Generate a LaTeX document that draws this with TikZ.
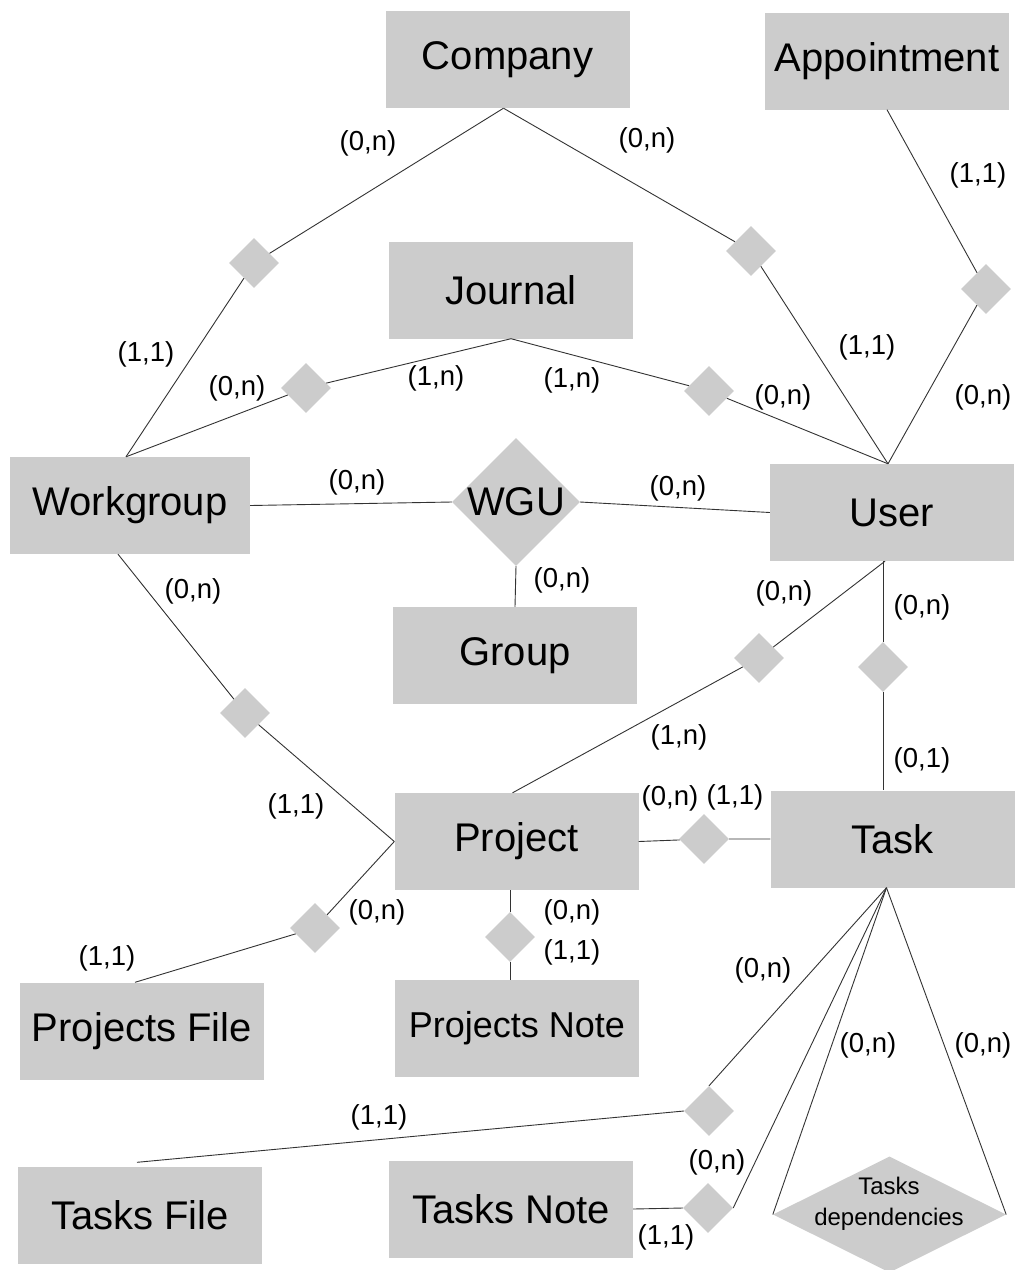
\documentclass[tikz,border=0pt]{standalone}
\usepackage{fontspec}
\setmainfont{Liberation Sans}
\usetikzlibrary{shapes.geometric,calc}
\definecolor{boxgray}{HTML}{CCCCCC}
\definecolor{linegray}{HTML}{333333}

\begin{document}
\begin{tikzpicture}[x=1pt,y=-1pt,
  entity/.style={rectangle, fill=boxgray, minimum width=244pt, minimum height=97pt,
                 inner sep=0pt, font=\fontsize{40}{44}\selectfont},
  rel/.style={diamond, fill=boxgray, minimum width=50pt, minimum height=50pt,
              inner sep=0pt, aspect=1},
  card/.style={font=\fontsize{27.5}{30}\selectfont, inner sep=0pt},
  link/.style={draw=linegray, line width=0.9pt}]

\fill[white] (0,0) rectangle (1024,1270);
\useasboundingbox (0,0) rectangle (1024,1270);

% entities
\node[entity] (company) at (507.5,59.5) {Company};
\node[entity] (appt) at (887,61) {Appointment};
\node[entity] (journal) at (511,290) {Journal};
\node[entity, minimum width=240pt] (wg) at (130,505.5) {Workgroup};
\node[entity] (user) at (892,512.5) {User};
\node[entity] (group) at (515,655.5) {Group};
\node[entity] (project) at (516.5,841.5) {Project};
\node[entity] (task) at (892.5,839) {Task};
\node[entity] (pfile) at (142,1031) {Projects File};
\node[entity, font=\fontsize{36}{40}\selectfont] (pnote) at (517,1028.5) {Projects Note};
\node[entity] (tfile) at (140,1215) {Tasks File};
\node[entity] (tnote) at (511,1209) {Tasks Note};

% relationships
\node[rel] (r1) at (254,263) {};
\node[rel] (r2) at (751,251) {};
\node[rel] (r3) at (986,289) {};
\node[rel] (r4) at (306,388) {};
\node[rel] (r5) at (709,391) {};
\node[rel, minimum width=128pt, minimum height=128pt,
      font=\fontsize{40}{44}\selectfont] (wgu) at (516,502) {WGU};
\node[rel] (r6) at (245,713) {};
\node[rel] (r7) at (759,658) {};
\node[rel] (r8) at (883,667) {};
\node[rel] (r9) at (704,839) {};
\node[rel] (r10) at (315,928) {};
\node[rel] (r11) at (510,937) {};
\node[rel] (r12) at (709,1111) {};
\node[rel] (r13) at (708,1208) {};
\node[rel, minimum width=233pt, minimum height=116pt] (dep) at (889.5,1214.5) {};
\node[font=\fontsize{24}{31}\selectfont, align=center, inner sep=0pt] (deptext)
  at (889,1204) {Tasks\\dependencies};

% attachment points
\coordinate (compfoot) at ($(company.south)+(-4,0)$);
\coordinate (wghead) at ($(wg.north)+(-4,0)$);
\coordinate (userhead) at ($(user.north)+(-4,0)$);
\coordinate (userfoot) at ($(user.south)+(-7,0)$);
\coordinate (wgfoot) at ($(wg.south)+(-12,0)$);
\coordinate (projhead) at ($(project.north)+(-4,0)$);
\coordinate (pfilehead) at ($(pfile.north)+(-7,0)$);
\coordinate (tfilehead) at ($(tfile.north)+(-3,-4)$);
\coordinate (taskfoot) at ($(task.south)+(-6,0)$);

% connectors
\draw[link] (compfoot) -- (r1) -- (wghead);
\draw[link] (compfoot) -- (r2) -- (userhead);
\draw[link] (appt.south) -- (r3) -- (userhead);
\draw[link] (journal.south) -- (r4) -- (wghead);
\draw[link] (journal.south) -- (r5) -- (userhead);
\draw[link] (wg.east) -- (wgu.west);
\draw[link] (wgu.east) -- (user.west);
\draw[link] (wgu.south) -- (group.north);
\draw[link] (wgfoot) -- (r6) -- (project.west);
\draw[link] (userfoot) -- (r7) -- (projhead);
\draw[link] (user.south -| r8) -- (r8) -- (r8 |- task.north);
\draw[link] (project.east) -- (r9) -- (task.west);
\draw[link] (project.west) -- (r10) -- (pfilehead);
\draw[link] (project.south -| r11) -- (r11) -- (r11 |- pnote.north);
\draw[link] (taskfoot) -- (r12.north);
\draw[link] (r12.west) -- (tfilehead);
\draw[link] (taskfoot) -- (r13.east);
\draw[link] (r13.west) -- (tnote.east);
\draw[link] (taskfoot) -- (dep.west);
\draw[link] (taskfoot) -- (dep.east);

% cardinalities
\node[card] (k1) at (368,143) {(0,n)};
\node[card] (k2) at (647,140) {(0,n)};
\node[card] (k3) at (978,175) {(1,1)};
\node[card] (k4) at (146,354) {(1,1)};
\node[card] (k5) at (237,388) {(0,n)};
\node[card] (k6) at (436,378) {(1,n)};
\node[card] (k7) at (572,380) {(1,n)};
\node[card] (k8) at (783,397) {(0,n)};
\node[card] (k9) at (867,347) {(1,1)};
\node[card] (k10) at (983,397) {(0,n)};
\node[card] (k11) at (357,482) {(0,n)};
\node[card] (k12) at (678,488) {(0,n)};
\node[card] (k13) at (562,580) {(0,n)};
\node[card] (k14) at (193,591) {(0,n)};
\node[card] (k15) at (296,806) {(1,1)};
\node[card] (k16) at (784,593) {(0,n)};
\node[card] (k17) at (922,607) {(0,n)};
\node[card] (k18) at (679,737) {(1,n)};
\node[card] (k19) at (922,760) {(0,1)};
\node[card] (k20) at (670,798) {(0,n)};
\node[card] (k21) at (735,797) {(1,1)};
\node[card] (k22) at (377,912) {(0,n)};
\node[card] (k23) at (107,958) {(1,1)};
\node[card] (k24) at (572,912) {(0,n)};
\node[card] (k25) at (572,952) {(1,1)};
\node[card] (k26) at (763,970) {(0,n)};
\node[card] (k27) at (868,1045) {(0,n)};
\node[card] (k28) at (983,1045) {(0,n)};
\node[card] (k29) at (379,1117) {(1,1)};
\node[card] (k30) at (717,1162) {(0,n)};
\node[card] (k31) at (666,1237) {(1,1)};
\end{tikzpicture}
\end{document}
